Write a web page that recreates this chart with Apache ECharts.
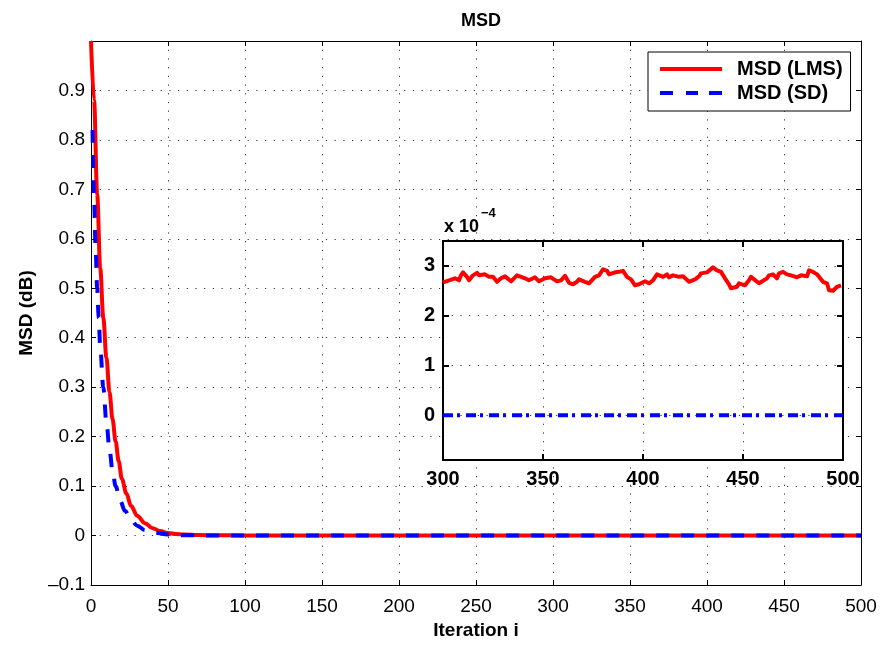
<!DOCTYPE html>
<html>
<head>
<meta charset="utf-8">
<script src="https://cdn.jsdelivr.net/npm/echarts@6/dist/echarts.min.js"></script>
<style>
html,body{margin:0;padding:0;background:#fff;}
#chart{width:881px;height:645px;}
</style>
</head>
<body>
<div id="chart"></div>
<script>
// ---- data ----
const chartTitle = 'MSD';
const xAxisName = 'Iteration i';
const yAxisName = 'MSD (dB)';
const seriesNames = ['MSD (LMS)', 'MSD (SD)'];

// main plot
const lmsIter = [0, 2, 4, 6, 8, 10, 12, 14, 16, 18, 20, 23, 26, 30, 35, 40, 45, 50, 55, 60, 70, 80, 100, 500];
const lmsMSD  = [1.0, 0.88, 0.69, 0.54, 0.44, 0.36, 0.29, 0.235, 0.19, 0.15, 0.115, 0.085, 0.06, 0.04, 0.025, 0.015, 0.009, 0.005, 0.003, 0.002, 0.001, 0.0005, 0.0003, 0.0003];
const sdIter  = [1, 2, 3, 4, 5, 6, 8, 10, 12, 14, 16, 19, 22, 26, 30, 35, 41, 50, 60, 80, 100, 500];
const sdMSD   = [0.82, 0.68, 0.58, 0.5, 0.44, 0.38, 0.3, 0.23, 0.175, 0.13, 0.1, 0.07, 0.05, 0.032, 0.02, 0.011, 0.006, 0.002, 0.0007, 0.0001, 0, 0];

// inset (values in units of 1e-4)
const insetIter = [300,303,304,306,308,309,310,312,313,315,317,318,321,323,325,327,329,331,334,337,338,341,343,346,348,351,354,357,359,361,363,365,367,368,371,373,376,378,380,382,383,386,388,390,392,394,396,398,401,403,405,407,408,410,412,413,415,418,420,423,426,428,429,432,433,435,437,439,441,443,444,447,448,451,453,454,455,458,459,462,463,465,467,468,470,472,474,477,479,482,483,485,487,488,490,492,493,495,497,499];
const insetLMS  = [2.67,2.71,2.69,2.75,2.71,2.81,2.87,2.78,2.71,2.81,2.86,2.81,2.83,2.78,2.78,2.68,2.75,2.79,2.69,2.81,2.83,2.75,2.71,2.77,2.69,2.75,2.77,2.69,2.71,2.8,2.66,2.63,2.68,2.73,2.68,2.65,2.78,2.81,2.93,2.9,2.83,2.87,2.88,2.9,2.78,2.73,2.61,2.63,2.69,2.65,2.71,2.83,2.86,2.78,2.83,2.77,2.81,2.78,2.79,2.68,2.73,2.79,2.85,2.87,2.83,2.97,2.91,2.88,2.75,2.63,2.55,2.58,2.65,2.61,2.71,2.78,2.75,2.65,2.61,2.75,2.81,2.83,2.75,2.85,2.88,2.83,2.81,2.77,2.81,2.79,2.91,2.88,2.83,2.78,2.68,2.65,2.51,2.5,2.58,2.61];
const insetSDIter = [300, 500];
const insetSD     = [0, 0];
const insetScaleBase = 'x 10';
const insetScaleExp  = '\u22124';

// ---- helpers ----
const FONT = "'Liberation Sans', Arial, Helvetica, sans-serif";
const pairs = (xs, ys) => xs.map((x, i) => [x, ys[i]]);
const dotted = { show: true, lineStyle: { color: '#333', width: 1, type: [1.2, 7.5] } };

function mainYLabel(v) {
  if (Math.abs(v - 1) < 1e-9) return '';
  const r = Math.round(v * 10) / 10;
  if (r === 0) return '0';
  if (r < 0) return '\u2013' + (-r).toFixed(1);
  return r.toFixed(1);
}
function insetYLabel(v) {
  const r = Math.round(v * 1000) / 1000;
  return Number.isInteger(r) ? String(r) : '';
}

const chart = echarts.init(document.getElementById('chart'), null, { renderer: 'canvas' });

const mainX = { gridIndex: 0, type: 'value', min: 0, max: 500, interval: 50 };
const mainY = { gridIndex: 0, type: 'value', min: -0.1, max: 1.0, interval: 0.1 };
const insX  = { gridIndex: 1, type: 'value', min: 300, max: 500, interval: 50 };
const insY  = { gridIndex: 1, type: 'value', min: -0.9, max: 3.5, splitNumber: 5 };

const thinLine = { show: true, onZero: false, lineStyle: { color: '#000', width: 1 } };
const thickLine = { show: true, onZero: false, lineStyle: { color: '#000', width: 2 } };

const option = {
  backgroundColor: '#fff',
  animation: false,
  title: {
    text: chartTitle, left: 456, top: 7,
    textStyle: { fontFamily: FONT, fontSize: 18, fontWeight: 'bold', color: '#000' }
  },
  legend: {
    orient: 'vertical', left: 648, top: 52, z: 20,
    backgroundColor: '#fff', borderColor: '#000', borderWidth: 1,
    padding: [7, 8, 8, 12], itemGap: 4,
    itemWidth: 62, itemHeight: 4,
    itemStyle: { borderWidth: 0 },
    lineStyle: { width: 0 },
    textStyle: { fontFamily: FONT, fontSize: 20, fontWeight: 'bold', color: '#000', padding: [0, 0, 0, 10] },
    data: [
      { name: seriesNames[0], icon: 'rect' },
      { name: seriesNames[1], icon: 'path://M0,0H13V4H0Z M26,0H38V4H26Z M49,0H62V4H49Z' }
    ]
  },
  grid: [
    { left: 91, top: 41, width: 770, height: 549, show: false, z: 0 },
    { left: 443, top: 241, width: 400, height: 219, show: true, backgroundColor: '#fff', borderWidth: 0, z: 3 }
  ],
  xAxis: [
    Object.assign({}, mainX, {
      position: 'bottom', axisLine: thinLine,
      axisTick: { show: true, inside: true, length: 5, lineStyle: { color: '#000' } },
      axisLabel: { fontFamily: FONT, fontSize: 19, color: '#000', margin: 12 },
      splitLine: dotted,
      name: xAxisName, nameLocation: 'middle', nameGap: 36,
      nameTextStyle: { fontFamily: FONT, fontSize: 19, fontWeight: 'bold', color: '#000' }
    }),
    Object.assign({}, mainX, {
      position: 'top', axisLine: thinLine,
      axisTick: { show: true, inside: true, length: 5, lineStyle: { color: '#000' } },
      axisLabel: { show: false }, splitLine: { show: false }
    }),
    Object.assign({}, insX, {
      position: 'bottom', axisLine: thickLine, z: 4,
      axisTick: { show: true, inside: true, length: 6, lineStyle: { color: '#000', width: 2 } },
      axisLabel: { fontFamily: FONT, fontSize: 20, fontWeight: 'bold', color: '#000', margin: 9 },
      splitLine: dotted
    }),
    Object.assign({}, insX, {
      position: 'top', axisLine: thickLine, z: 4,
      axisTick: { show: true, inside: true, length: 6, lineStyle: { color: '#000', width: 2 } },
      axisLabel: { show: false }, splitLine: { show: false }
    })
  ],
  yAxis: [
    Object.assign({}, mainY, {
      position: 'left', axisLine: thinLine,
      axisTick: { show: true, inside: true, length: 5, lineStyle: { color: '#000' } },
      axisLabel: { fontFamily: FONT, fontSize: 19, color: '#000', margin: 6, formatter: mainYLabel },
      splitLine: dotted,
      name: yAxisName, nameLocation: 'middle', nameGap: 55,
      nameTextStyle: { fontFamily: FONT, fontSize: 19, fontWeight: 'bold', color: '#000' }
    }),
    Object.assign({}, mainY, {
      position: 'right', axisLine: thinLine,
      axisTick: { show: true, inside: true, length: 5, lineStyle: { color: '#000' } },
      axisLabel: { show: false }, splitLine: { show: false }
    }),
    Object.assign({}, insY, {
      position: 'left', axisLine: thickLine, z: 4,
      axisTick: { show: true, inside: true, length: 6, lineStyle: { color: '#000', width: 2 } },
      axisLabel: { fontFamily: FONT, fontSize: 20, fontWeight: 'bold', color: '#000', margin: 8,
                   formatter: insetYLabel, showMinLabel: false, showMaxLabel: false },
      splitLine: dotted
    }),
    Object.assign({}, insY, {
      position: 'right', axisLine: thickLine, z: 4,
      axisTick: { show: true, inside: true, length: 6, lineStyle: { color: '#000', width: 2 } },
      axisLabel: { show: false }, splitLine: { show: false }
    })
  ],
  series: [
    {
      name: seriesNames[0], type: 'line', xAxisIndex: 0, yAxisIndex: 0,
      data: pairs(lmsIter, lmsMSD), showSymbol: false, symbol: 'none',
      smooth: 0.35, smoothMonotone: 'x', clip: true, z: 2,
      color: '#ff0000', lineStyle: { color: '#ff0000', width: 4 }
    },
    {
      name: seriesNames[1], type: 'line', xAxisIndex: 0, yAxisIndex: 0,
      data: pairs(sdIter, sdMSD), showSymbol: false, symbol: 'none',
      smooth: 0.35, smoothMonotone: 'x', clip: true, z: 2,
      color: '#0000ff', lineStyle: { color: '#0000ff', width: 4, type: [13, 12], cap: 'butt' }
    },
    {
      name: 'inset LMS', type: 'line', xAxisIndex: 2, yAxisIndex: 2,
      data: pairs(insetIter, insetLMS), showSymbol: false, symbol: 'none', clip: true, z: 5,
      lineStyle: { color: '#ff0000', width: 4, join: 'round' }
    },
    {
      name: 'inset SD', type: 'line', xAxisIndex: 2, yAxisIndex: 2,
      data: pairs(insetSDIter, insetSD), showSymbol: false, symbol: 'none', clip: true, z: 5,
      lineStyle: { color: '#0000ff', width: 4, type: [10, 4, 3, 6], cap: 'butt' }
    }
  ],
  graphic: [
    { type: 'text', left: 444, top: 218, z: 10,
      style: { text: insetScaleBase, font: 'bold 18px ' + FONT, fill: '#000' } },
    { type: 'text', left: 481, top: 207, z: 10,
      style: { text: insetScaleExp, font: 'bold 13px ' + FONT, fill: '#000' } }
  ]
};

chart.setOption(option);
</script>
</body>
</html>
